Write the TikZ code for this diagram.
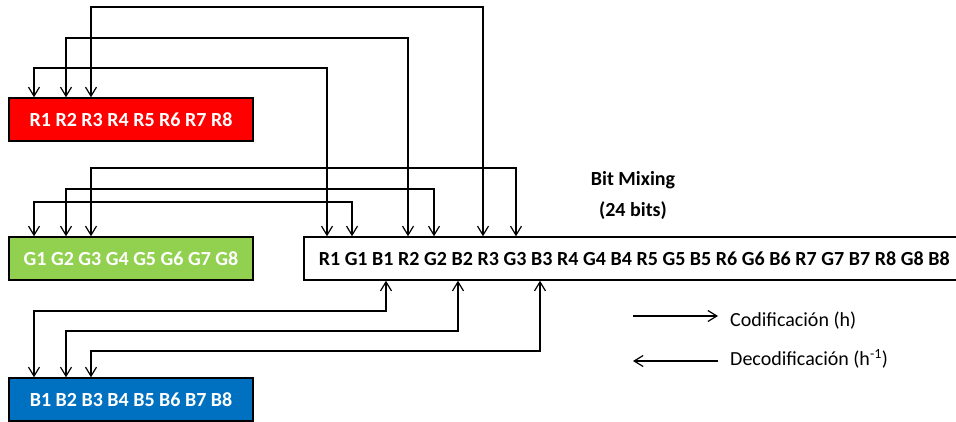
\documentclass[tikz,border=0pt]{standalone}
\usepackage{fontspec}
\setmainfont{Carlito}
\usetikzlibrary{arrows.meta}
\definecolor{rojo}{RGB}{255,0,0}
\definecolor{verde}{RGB}{146,208,80}
\definecolor{azul}{RGB}{0,112,192}
\tikzset{
  canal/.style={draw,line width=1.5pt,minimum width=244pt,minimum height=43pt,inner sep=0pt,
    text=white,font=\bfseries\fontsize{20}{24}\selectfont},
  punta/.tip={Straight Barb[length=9pt,width=11pt,line width=1.2pt]},
  enlace/.style={line width=1.2pt,punta-punta},
  leyenda/.style={anchor=west,inner sep=0pt,font=\fontsize{20}{24}\selectfont}
}
\begin{document}
\begin{tikzpicture}[x=1pt,y=-1pt]
        \useasboundingbox (0,0) rectangle (956,421);
        \node[canal,fill=rojo] (rojo) at (131,119.5) {R1 R2 R3 R4 R5 R6 R7 R8};
        \node[canal,fill=verde] (verde) at (131,258.5) {G1 G2 G3 G4 G5 G6 G7 G8};
        \node[canal,fill=azul] (azul) at (131,399.5) {B1 B2 B3 B4 B5 B6 B7 B8};
        \node[draw,line width=1.5pt,anchor=west,minimum height=43pt,inner xsep=15pt,inner ysep=0pt,
          text width=700pt,align=left,font=\bfseries\fontsize{20}{24}\selectfont] (mezcla) at (303,258.5)
          {\spaceskip=4.6pt R1 G1 B1 R2 G2 B2 R3 G3 B3 R4 G4 B4 R5 G5 B5 R6 G6 B6 R7 G7 B7 R8 G8 B8};
        \node[align=center,font=\bfseries\fontsize{20}{31}\selectfont] (titulo) at (633,195) {Bit Mixing\\(24 bits)};
        % rojo, verde y azul hacia la mezcla
        \foreach \s/\t/\h in {34/327/68, 66/408/38, 91/483/7}
            \draw[enlace] (\t,0 |- mezcla.north) |- (\s,\h) -- (\s,0 |- rojo.north);
        \foreach \s/\t/\h in {34/352/202, 66/434/189, 91/516/168}
            \draw[enlace] (\t,0 |- mezcla.north) |- (\s,\h) -- (\s,0 |- verde.north);
        \foreach \s/\t/\h in {34/386/311, 66/458/331, 91/540/351}
            \draw[enlace] (\t,0 |- mezcla.south) |- (\s,\h) -- (\s,0 |- azul.north);
        % leyenda
        \node[leyenda] (cod) at (730,321) {Codificación (h)};
        \node[leyenda] (dec) at (730,359) {Decodificación (h\textsuperscript{-1})};
        \coordinate (c0) at (633,316);
        \coordinate (d0) at (633,361);
        \draw[line width=1.2pt,-punta] (c0) -- (c0 -| 718,0);
        \draw[line width=1.2pt,punta-] (d0) -- (d0 -| 718,0);
\end{tikzpicture}
\end{document}
